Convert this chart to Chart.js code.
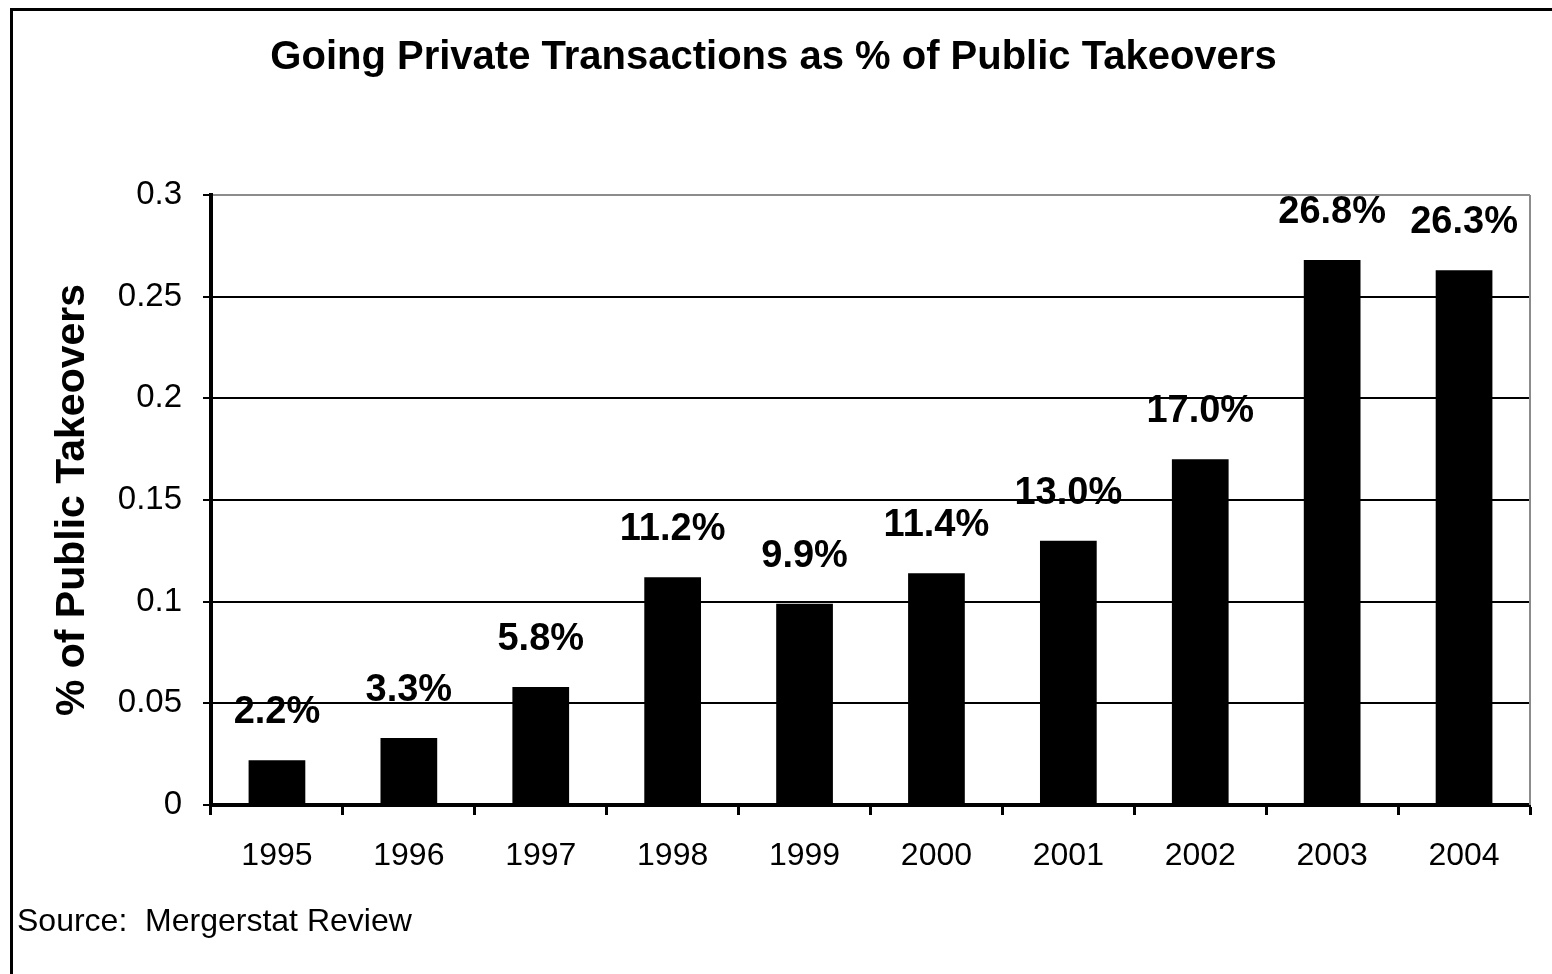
<!DOCTYPE html>
<html>
<head>
<meta charset="utf-8">
<title>Going Private Transactions as % of Public Takeovers</title>
<script src="https://cdn.jsdelivr.net/npm/chart.js@4.4.1/dist/chart.umd.min.js"></script>
<style>
    html, body { margin: 0; padding: 0; background: #fff; }
    #frame {
        position: absolute; left: 10px; top: 8px; right: -10px; bottom: -10px;
        border-left: 3px solid #000; border-top: 3px solid #000;
    }
    #wrap { position: absolute; left: 0; top: 0; width: 1552px; height: 974px; }
</style>
</head>
<body>
<div id="frame"></div>
<div id="wrap"><canvas id="takeoverChart" width="1552" height="974"></canvas></div>
<script>
const years = ['1995', '1996', '1997', '1998', '1999', '2000', '2001', '2002', '2003', '2004'];
const goingPrivateShare = [0.022, 0.033, 0.058, 0.112, 0.099, 0.114, 0.130, 0.170, 0.268, 0.263];
const yTicks = [0, 0.05, 0.1, 0.15, 0.2, 0.25, 0.3];

const fontFamily = '"Liberation Sans", Arial, sans-serif';

// percentage labels above each bar
const barLabels = {
    id: 'barLabels',
    afterDatasetsDraw(chart) {
        const ctx = chart.ctx;
        const meta = chart.getDatasetMeta(0);
        ctx.save();
        ctx.font = 'bold 38px ' + fontFamily;
        ctx.fillStyle = '#000';
        ctx.textAlign = 'center';
        ctx.textBaseline = 'alphabetic';
        meta.data.forEach(function (bar, i) {
            const text = (goingPrivateShare[i] * 100).toFixed(1) + '%';
            ctx.fillText(text, bar.x, bar.y - 37);
        });
        ctx.restore();
    }
};

// grey border on the right side of the plot
const plotBorder = {
    id: 'plotBorder',
    afterDraw(chart) {
        const a = chart.chartArea;
        const ctx = chart.ctx;
        ctx.save();
        ctx.strokeStyle = '#8c8c8c';
        ctx.lineWidth = 2;
        ctx.beginPath();
        ctx.moveTo(a.right, a.top);
        ctx.lineTo(a.right, a.bottom);
        ctx.stroke();
        ctx.restore();
    }
};

const ctx = document.getElementById('takeoverChart').getContext('2d');
const takeoverChart = new Chart(ctx, {
    type: 'bar',
    data: {
        labels: years,
        datasets: [{
            label: '% of Public Takeovers',
            data: goingPrivateShare,
            backgroundColor: '#000',
            borderWidth: 0,
            categoryPercentage: 1,
            barPercentage: 0.43
        }]
    },
    options: {
        responsive: false,
        animation: false,
        layout: { padding: { left: 17, right: 22, top: 0, bottom: 0 } },
        plugins: {
            legend: { display: false },
            tooltip: { enabled: false },
            title: {
                display: true,
                text: 'Going Private Transactions as % of Public Takeovers',
                color: '#000',
                font: { family: fontFamily, size: 40, weight: 'bold' },
                padding: { top: 34, bottom: 113 }
            },
            subtitle: {
                display: true,
                position: 'bottom',
                align: 'start',
                text: 'Source:  Mergerstat Review',
                color: '#000',
                font: { family: fontFamily, size: 32 },
                padding: { top: 17.8, bottom: 32.8 }
            }
        },
        scales: {
            x: {
                grid: {
                    offset: true,
                    drawOnChartArea: false,
                    drawTicks: true,
                    tickLength: 10,
                    tickWidth: 3,
                    tickColor: '#000'
                },
                border: { display: true, color: '#000', width: 4 },
                ticks: {
                    color: '#000',
                    padding: 22,
                    font: { family: fontFamily, size: 32 }
                },
                afterFit(scale) { scale.height = 80; }
            },
            y: {
                min: 0,
                max: 0.3,
                afterBuildTicks(scale) {
                    scale.ticks = yTicks.map(v => ({ value: v }));
                },
                grid: {
                    color: c => (c.tick && c.tick.value === 0.3) ? '#8c8c8c' : '#000',
                    lineWidth: 2,
                    tickColor: '#000',
                    tickLength: 8
                },
                border: { display: true, color: '#000', width: 4 },
                ticks: {
                    color: '#000',
                    padding: 21,
                    font: { family: fontFamily, size: 33 },
                    callback: v => String(Number(v.toFixed(2)))
                },
                title: {
                    display: true,
                    text: '% of Public Takeovers',
                    color: '#000',
                    font: { family: fontFamily, size: 41, weight: 'bold' },
                    padding: { top: 31, bottom: 0 }
                },
                afterFit(scale) { scale.width = 211 - 17; }
            }
        }
    },
    plugins: [barLabels, plotBorder]
});
</script>
</body>
</html>
